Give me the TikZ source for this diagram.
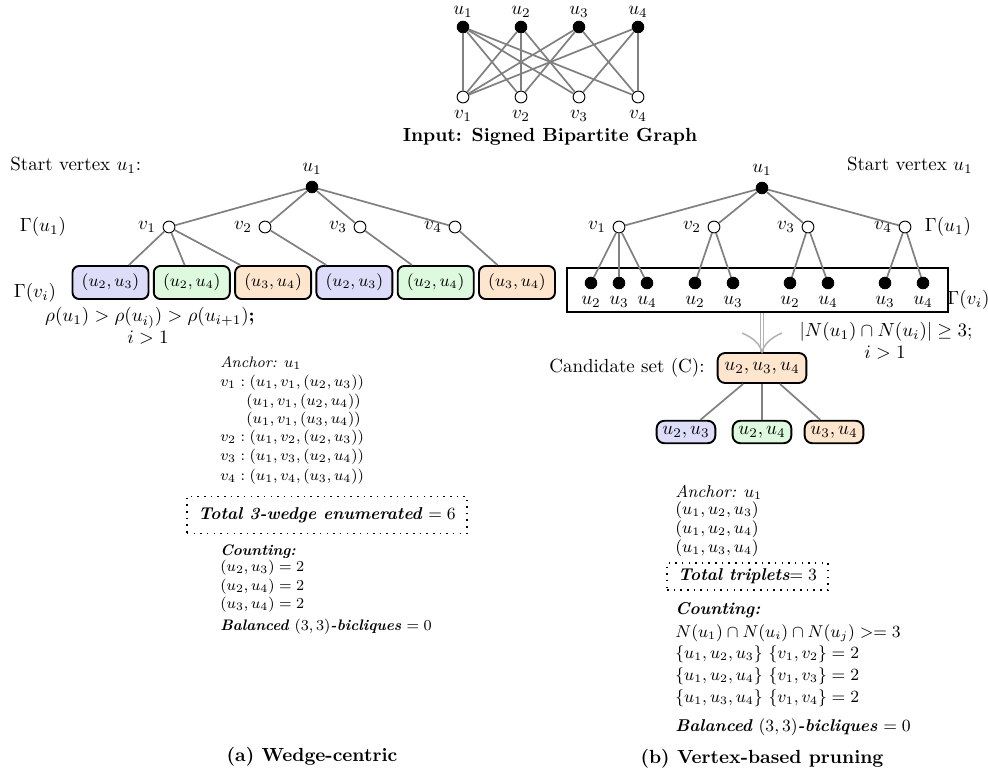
\documentclass[tikz,border=0pt]{standalone}
\usepackage{amsmath,amssymb}
\usetikzlibrary{arrows.meta}
\definecolor{boxblue}{RGB}{221,221,250}
\definecolor{boxgreen}{RGB}{222,250,222}
\definecolor{boxorange}{RGB}{253,229,206}
\begin{document}
\begin{tikzpicture}[x=0.5263pt, y=-0.5263pt,
 unode/.style={circle, fill=black, draw=black, inner sep=0pt, minimum size=6.2pt},
 vnode/.style={circle, fill=white, draw=black, line width=0.5pt, inner sep=0pt, minimum size=6.2pt},
 toplab/.style={label={[inner sep=1pt, label distance=0.5pt]above:#1}},
 gline/.style={draw=gray, line width=0.9pt},
 pairbox/.style={draw=black, line width=1pt, rounded corners=3.5pt, minimum width=40pt, minimum height=17.4pt, inner sep=0pt, font=\small},
 candbox/.style={draw=black, line width=1pt, rounded corners=4pt, inner xsep=3.6pt, inner ysep=0pt, minimum height=15.8pt, fill=boxorange},
 subbox/.style={draw=black, line width=1pt, rounded corners=4pt, inner xsep=3pt, inner ysep=0pt, minimum height=11.8pt},
 bfill/.style={fill=boxblue},
 gfill/.style={fill=boxgreen},
 ofill/.style={fill=boxorange},
 dotbox/.style={draw=black, line width=0.8pt, dash pattern=on 0.8pt off 2.7pt, inner sep=0pt},
 txt/.style={inner sep=0pt},
 ltxt/.style={anchor=west, inner sep=0pt, font=\footnotesize},
 rtxt/.style={anchor=west, inner sep=0pt, font=\small},
 dblarrow/.style={draw=gray!60, line width=0.6pt, double=white, double distance=1.4pt},
 headwing/.style={draw=gray!60, line width=0.8pt}
]
\useasboundingbox (0,0) rectangle (988,774);

% ---------- top graph ----------
\node[unode, toplab=$u_1$] (tu1) at (463,27) {};
\node[unode, toplab=$u_2$] (tu2) at (521,27) {};
\node[unode, toplab=$u_3$] (tu3) at (579,27) {};
\node[unode, toplab=$u_4$] (tu4) at (638,27) {};
\node[vnode, label=below:$v_1$] (tv1) at (463,97) {};
\node[vnode, label=below:$v_2$] (tv2) at (521,97) {};
\node[vnode, label=below:$v_3$] (tv3) at (579,97) {};
\node[vnode, label=below:$v_4$] (tv4) at (638,97) {};
\foreach \a/\b in {tu1/tv1,tu1/tv2,tu1/tv3,tu1/tv4,tu2/tv1,tu2/tv2,tu2/tv3,tu3/tv1,tu3/tv2,tu3/tv4,tu4/tv1,tu4/tv3,tu4/tv4}
  \draw[gline] (\a) -- (\b);
\node[txt, font=\bfseries] (title) at (550,137) {Input: Signed Bipartite Graph};

% ---------- left tree ----------
\node[txt, anchor=west] (lstart) at (10,165) {Start vertex $u_1$:};
\node[unode, label=above:$u_1$] (lr) at (312,187) {};
\node[vnode, label=left:$v_1$] (lv1) at (169,227) {};
\node[vnode, label=left:$v_2$] (lv2) at (265,227) {};
\node[vnode, label=left:$v_3$] (lv3) at (360,227) {};
\node[vnode, label=left:$v_4$] (lv4) at (455,227) {};
\node[txt] (lg1) at (43,227) {$\Gamma(u_1)$};
\node[pairbox, bfill] (lb1) at (110.5,282.5) {$(u_2,u_3)$};
\node[pairbox, gfill] (lb2) at (191.8,282.5) {$(u_2,u_4)$};
\node[pairbox, ofill] (lb3) at (273.1,282.5) {$(u_3,u_4)$};
\node[pairbox, bfill] (lb4) at (354.4,282.5) {$(u_2,u_3)$};
\node[pairbox, gfill] (lb5) at (435.7,282.5) {$(u_2,u_4)$};
\node[pairbox, ofill] (lb6) at (517,282.5) {$(u_3,u_4)$};
\node[txt] (lg2) at (35,293) {$\Gamma(v_i)$};
\node[txt] (lrho) at (150,318) {$\rho(u_1) > \rho(u_{i)}) > \rho(u_{i+1})$\textbf{;}};
\node[txt] (li) at (148,338) {$i>1$};
\foreach \a/\b in {lr/lv1,lr/lv2,lr/lv3,lr/lv4,lv1/lb1,lv1/lb2,lv1/lb3,lv2/lb4,lv3/lb5,lv4/lb6}
  \draw[gline] (\a) -- (\b);

% ---------- right tree ----------
\node[txt, anchor=east] (rstart) at (973,165) {Start vertex $u_1$};
\node[unode, label=above:$u_1$] (rr) at (762,188) {};
\node[vnode, label=left:$v_1$] (rv1) at (619,227) {};
\node[vnode, label=left:$v_2$] (rv2) at (714,227) {};
\node[vnode, label=left:$v_3$] (rv3) at (808,227) {};
\node[vnode, label=left:$v_4$] (rv4) at (905,227) {};
\node[txt] (rg1) at (948,227) {$\Gamma(u_1)$};
\node[draw=black, line width=1pt, minimum width=200.5pt, minimum height=23.2pt, inner sep=0pt] (rrect) at (757.5,290) {};
\node[unode, label=below:$u_2$] (rd1) at (591,283) {};
\node[unode, label=below:$u_3$] (rd2) at (619,283) {};
\node[unode, label=below:$u_4$] (rd3) at (647,283) {};
\node[unode, label=below:$u_2$] (rd4) at (695,283) {};
\node[unode, label=below:$u_3$] (rd5) at (733,283) {};
\node[unode, label=below:$u_2$] (rd6) at (790,283) {};
\node[unode, label=below:$u_4$] (rd7) at (828,283) {};
\node[unode, label=below:$u_3$] (rd8) at (885,283) {};
\node[unode, label=below:$u_4$] (rd9) at (923,283) {};
\node[txt, anchor=west] (rg2) at (947,300) {$\Gamma(v_i)$};
\node[txt] (rcond) at (886,332) {$|N(u_1)\cap N(u_i)| \geq 3$;};
\node[txt] (ri) at (885,353) {$i>1$};
\foreach \a/\b in {rr/rv1,rr/rv2,rr/rv3,rr/rv4,rv1/rd1,rv1/rd2,rv1/rd3,rv2/rd4,rv2/rd5,rv3/rd6,rv3/rd7,rv4/rd8,rv4/rd9}
  \draw[gline] (\a) -- (\b);

% candidate set
\node[candbox] (cand) at (762,368) {$u_2,u_3,u_4$};
\node[txt, anchor=east] (candlbl) at (705,368) {Candidate set (C):};
\coordinate (abase) at (cand.north |- rrect.south);
\coordinate (atip) at (cand.north);
\draw[dblarrow] (abase) -- (atip);
\draw[headwing] ([xshift=-10.5pt, yshift=10pt]atip) .. controls ([xshift=-4.5pt, yshift=7.5pt]atip) and ([xshift=-1pt, yshift=4pt]atip) .. (atip)
  .. controls ([xshift=1pt, yshift=4pt]atip) and ([xshift=4.5pt, yshift=7.5pt]atip) .. ([xshift=10.5pt, yshift=10pt]atip);
\node[subbox, bfill] (cb1) at (686,432) {$u_2,u_3$};
\node[subbox, gfill] (cb2) at (762,432) {$u_2,u_4$};
\node[subbox, ofill] (cb3) at (834,432) {$u_3,u_4$};
\foreach \b in {cb1,cb2,cb3}
  \draw[gline] (cand) -- (\b);

% ---------- left list ----------
\node[ltxt] (la0) at (220,363) {\textit{Anchor:} $u_1$};
\node[ltxt] (la1) at (220,383) {$v_1 : (u_1, v_1, (u_2, u_3))$};
\node[ltxt] (la2) at (246,402) {$(u_1, v_1, (u_2, u_4))$};
\node[ltxt] (la3) at (246,420) {$(u_1, v_1, (u_3, u_4))$};
\node[ltxt] (la4) at (220,438) {$v_2 : (u_1, v_2, (u_2, u_3))$};
\node[ltxt] (la5) at (220,457) {$v_3 : (u_1, v_3, (u_2, u_4))$};
\node[ltxt] (la6) at (220,477) {$v_4 : (u_1, v_4, (u_3, u_4))$};
\node[dotbox, minimum width=147.4pt, minimum height=19.5pt, font=\small] (ltot) at (327,515) {\textbf{\textit{Total 3-wedge enumerated}} $=6$};
\node[ltxt, font=\footnotesize\bfseries\itshape] (lc0) at (220,552) {Counting:};
\node[ltxt] (lc1) at (220,568) {$(u_2,u_3) = 2$};
\node[ltxt] (lc2) at (220,587) {$(u_2,u_4) = 2$};
\node[ltxt] (lc3) at (220,605) {$(u_3,u_4) = 2$};
\node[ltxt] (lbal) at (220,627) {\textbf{\textit{Balanced}} $(3,3)$\textbf{\textit{-bicliques}} $=0$};

% ---------- right list ----------
\node[rtxt] (ra0) at (675,492) {\textit{Anchor:} $u_1$};
\node[rtxt] (ra1) at (675,510) {$(u_1, u_2, u_3)$};
\node[rtxt] (ra2) at (675,529) {$(u_1, u_2, u_4)$};
\node[rtxt] (ra3) at (675,548) {$(u_1, u_3, u_4)$};
\node[dotbox, minimum width=84.7pt, minimum height=14.2pt, font=\small] (rtot) at (747.5,576.5) {\textbf{\textit{Total triplets}}$=3$};
\node[rtxt, font=\small\bfseries\itshape] (rc0) at (675,610) {Counting:};
\node[rtxt] (rc1) at (675,633) {$N(u_1)\cap N(u_i)\cap N(u_j) >= 3$};
\node[rtxt] (rc2) at (675,654) {$\{u_1,u_2,u_3\}$ $\{v_1,v_2\} = 2$};
\node[rtxt] (rc3) at (675,676) {$\{u_1,u_2,u_4\}$ $\{v_1,v_3\} = 2$};
\node[rtxt] (rc4) at (675,698) {$\{u_1,u_3,u_4\}$ $\{v_1,v_4\} = 2$};
\node[rtxt] (rbal) at (675,727) {\textbf{\textit{Balanced}} $(3,3)$\textbf{\textit{-bicliques}} $=0$};

% ---------- captions ----------
\node[txt, font=\bfseries] (capa) at (312,757) {(a) Wedge-centric};
\node[txt, font=\bfseries] (capb) at (762,759) {(b) Vertex-based pruning};
\end{tikzpicture}
\end{document}
